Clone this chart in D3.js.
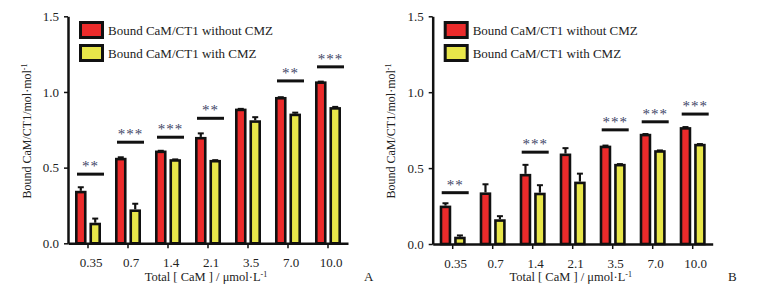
<!DOCTYPE html>
<html>
<head>
<meta charset="utf-8">
<script src="https://cdn.jsdelivr.net/npm/d3@7"></script>
<style>
  body { margin: 0; background: #fff; }
  svg text { font-family: 'Liberation Serif', 'DejaVu Serif', serif; }
</style>
</head>
<body>
<div id="chart"></div>
<script>
// categories and series
const concentrations = ["0.35", "0.7", "1.4", "2.1", "3.5", "7.0", "10.0"];
const seriesNames = ["Bound CaM/CT1 without CMZ", "Bound CaM/CT1 with CMZ"];
const seriesColors = ["#ec2b2b", "#e8e64a"];
const yTicks = [0, 0.5, 1.0, 1.5];

// panel A values (mean, upper error)
const aWithout = [0.347, 0.565, 0.613, 0.703, 0.89, 0.967, 1.07];
const aWithoutErr = [0.03, 0.01, 0.005, 0.03, 0.005, 0.005, 0.005];
const aWith = [0.136, 0.224, 0.556, 0.551, 0.813, 0.857, 0.90];
const aWithErr = [0.034, 0.044, 0.005, 0.005, 0.027, 0.013, 0.008];
// significance markers: group, level of bar, stars
const aSig = [
    ["0.35", 0.457, "**"], ["0.7", 0.668, "***"], ["1.4", 0.701, "***"],
    ["2.1", 0.826, "**"], ["7.0", 1.073, "**"], ["10.0", 1.166, "***"]
];

// panel B values
const bWithout = [0.253, 0.34, 0.462, 0.596, 0.648, 0.726, 0.77];
const bWithoutErr = [0.022, 0.06, 0.066, 0.042, 0.007, 0.005, 0.007];
const bWith = [0.048, 0.163, 0.338, 0.411, 0.528, 0.618, 0.66];
const bWithErr = [0.015, 0.027, 0.056, 0.059, 0.005, 0.005, 0.005];
const bSig = [
    ["0.35", 0.338, "**"], ["1.4", 0.605, "***"], ["3.5", 0.752, "***"],
    ["7.0", 0.805, "***"], ["10.0", 0.856, "***"]
];

const svg = d3.select("#chart").append("svg")
    .attr("width", 784)
    .attr("height", 292);

function drawPanel(opts) {
    const g = svg.append("g");
    const left = opts.left, right = opts.left + 280;
    const x = d3.scaleBand().domain(concentrations).range([left, right]);
    const y = d3.scaleLinear().domain([0, 1.5]).range([opts.bottom, 16.3]);
    const x1 = d3.scaleBand().domain([0, 1]).range([-13, 13]).paddingInner(0.2);

    const rows = [];
    concentrations.forEach((c, i) => {
        rows.push({ c, s: 0, v: opts.without[i], e: opts.withoutErr[i] });
        rows.push({ c, s: 1, v: opts.with[i], e: opts.withErr[i] });
    });
    const center = c => x(c) + x.bandwidth() / 2;
    const sw = 2.6;

    // error bars (upper only)
    rows.forEach(d => {
        const cx = center(d.c) + x1(d.s) + x1.bandwidth() / 2;
        g.append("line")
            .attr("x1", cx).attr("x2", cx)
            .attr("y1", y(d.v)).attr("y2", y(d.v + d.e) + 1)
            .attr("stroke", "#111").attr("stroke-width", 2.2);
        g.append("line")
            .attr("x1", cx - 3).attr("x2", cx + 3)
            .attr("y1", y(d.v + d.e) + 1).attr("y2", y(d.v + d.e) + 1)
            .attr("stroke", "#111").attr("stroke-width", 2);
    });

    // bars
    g.selectAll("rect.bar")
        .data(rows)
        .enter().append("rect")
        .attr("class", "bar")
        .attr("x", d => center(d.c) + x1(d.s) + sw / 2)
        .attr("y", d => y(d.v) + sw / 2)
        .attr("width", x1.bandwidth() - sw)
        .attr("height", d => opts.bottom - y(d.v) - sw / 2)
        .attr("fill", d => seriesColors[d.s])
        .attr("stroke", "#111")
        .attr("stroke-width", sw);

    // significance lines and stars
    opts.sig.forEach(s => {
        const cx = center(s[0]) + 2.5;
        g.append("line")
            .attr("x1", cx - 13.5).attr("x2", cx + 13.5)
            .attr("y1", y(s[1])).attr("y2", y(s[1]))
            .attr("stroke", "#111").attr("stroke-width", 3);
        g.append("text")
            .attr("x", cx)
            .attr("y", y(s[1]) - 3)
            .attr("text-anchor", "middle")
            .style("font-size", "15px")
            .style("letter-spacing", "1px")
            .style("fill", "#3e4566")
            .text(s[2]);
    });

    // axes
    const yAxis = g.append("g")
        .attr("transform", `translate(${left},0)`)
        .call(d3.axisLeft(y).tickValues(yTicks).tickFormat(d3.format(".1f")).tickSize(4).tickSizeOuter(0));
    const xAxis = g.append("g")
        .attr("transform", `translate(0,${opts.bottom})`)
        .call(d3.axisBottom(x).tickSize(5).tickSizeOuter(0));
    [yAxis, xAxis].forEach(a => {
        a.select(".domain").attr("stroke", "#111").attr("stroke-width", 2.5);
        a.selectAll(".tick line").attr("stroke", "#111").attr("stroke-width", 1.5);
        a.selectAll(".tick text")
            .style("font-family", "'Liberation Serif', serif")
            .style("font-size", "13px")
            .style("fill", "#222");
    });
    xAxis.selectAll(".tick text").attr("dy", "1.2em").attr("dx", 3);
    yAxis.selectAll(".tick text").attr("dx", -2);

    // axis titles
    g.append("text")
        .attr("transform", `translate(${opts.yTitleX},131) rotate(-90)`)
        .attr("text-anchor", "middle")
        .style("font-size", "12px")
        .style("fill", "#222")
        .html("Bound CaM/CT1/mol\u00b7mol<tspan dy='-4' font-size='8px'>-1</tspan>");
    g.append("text")
        .attr("x", left + 138)
        .attr("y", 281)
        .attr("text-anchor", "middle")
        .style("font-size", "12.5px")
        .style("fill", "#222")
        .html("Total [ CaM ] / \u03bcmol\u00b7L<tspan dy='-4' font-size='8px'>-1</tspan>");
    g.append("text")
        .attr("x", opts.letterX)
        .attr("y", 281)
        .style("font-size", "13px")
        .style("fill", "#222")
        .text(opts.letter);

    // legend
    seriesNames.forEach((name, i) => {
        const ly = 21 + i * 23;
        g.append("rect")
            .attr("x", left + 12.5).attr("y", ly + 1.5)
            .attr("width", 22).attr("height", 15)
            .attr("fill", seriesColors[i])
            .attr("stroke", "#111").attr("stroke-width", 3);
        g.append("text")
            .attr("x", left + 40)
            .attr("y", ly + 14)
            .style("font-size", "13px")
            .style("fill", "#222")
            .text(name);
    });
}

drawPanel({
    left: 68, bottom: 243.3, yTitleX: 31, letter: "A", letterX: 364,
    without: aWithout, withoutErr: aWithoutErr, with: aWith, withErr: aWithErr, sig: aSig
});
drawPanel({
    left: 432.7, bottom: 244, yTitleX: 395, letter: "B", letterX: 728,
    without: bWithout, withoutErr: bWithoutErr, with: bWith, withErr: bWithErr, sig: bSig
});
</script>
</body>
</html>
